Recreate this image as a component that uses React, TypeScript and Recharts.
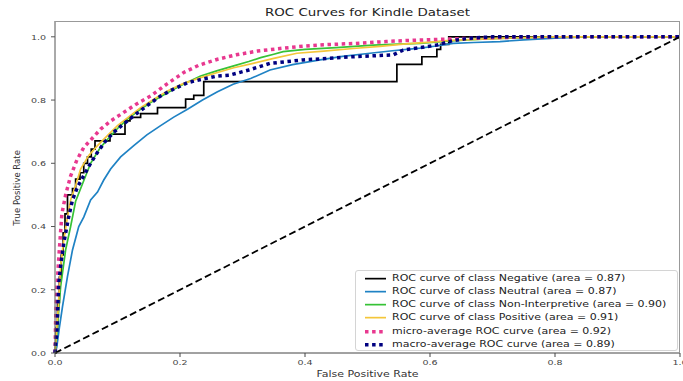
import React from 'react';
import { LineChart, Line, XAxis, YAxis } from 'recharts';

// false / true positive rates
const negFpr = [0, 0.002, 0.004, 0.007, 0.01, 0.013, 0.016, 0.02, 0.028, 0.033, 0.04, 0.046, 0.052, 0.058, 0.064, 0.088, 0.112, 0.12, 0.137, 0.164, 0.209, 0.222, 0.238, 0.547, 0.587, 0.611, 0.617, 0.63, 1.0];
const negTpr = [0, 0.08, 0.16, 0.24, 0.31, 0.38, 0.44, 0.5, 0.52, 0.55, 0.57, 0.6, 0.62, 0.645, 0.671, 0.692, 0.734, 0.745, 0.757, 0.776, 0.803, 0.815, 0.858, 0.913, 0.937, 0.96, 0.976, 1.0, 1.0];

const neuFpr = [0, 0.003, 0.007, 0.012, 0.02, 0.028, 0.038, 0.046, 0.057, 0.068, 0.078, 0.089, 0.105, 0.126, 0.147, 0.169, 0.19, 0.212, 0.236, 0.26, 0.285, 0.313, 0.344, 0.38, 0.424, 0.46, 0.504, 0.54, 0.584, 0.61, 0.637, 0.67, 0.712, 0.75, 0.8, 0.85, 1.0];
const neuTpr = [0, 0.021, 0.08, 0.147, 0.242, 0.326, 0.4, 0.43, 0.484, 0.509, 0.547, 0.582, 0.62, 0.656, 0.69, 0.719, 0.746, 0.771, 0.8, 0.826, 0.85, 0.868, 0.895, 0.912, 0.927, 0.938, 0.948, 0.956, 0.964, 0.971, 0.979, 0.982, 0.985, 0.99, 0.996, 1.0, 1.0];

const nonFpr = [0, 0.002, 0.004, 0.009, 0.017, 0.025, 0.033, 0.045, 0.057, 0.072, 0.089, 0.1, 0.116, 0.135, 0.153, 0.17, 0.19, 0.21, 0.233, 0.26, 0.286, 0.31, 0.329, 0.35, 0.365, 0.4, 0.45, 0.509, 0.55, 0.584, 0.627, 0.66, 0.7, 0.75, 0.8, 1.0];
const nonTpr = [0, 0.04, 0.084, 0.21, 0.326, 0.4, 0.48, 0.54, 0.6, 0.648, 0.687, 0.71, 0.74, 0.768, 0.792, 0.812, 0.834, 0.855, 0.876, 0.893, 0.908, 0.922, 0.934, 0.945, 0.953, 0.96, 0.966, 0.974, 0.977, 0.979, 0.986, 0.99, 0.994, 0.997, 1.0, 1.0];

const posFpr = [0, 0.002, 0.005, 0.009, 0.014, 0.02, 0.025, 0.033, 0.041, 0.054, 0.068, 0.085, 0.1, 0.12, 0.137, 0.16, 0.18, 0.205, 0.233, 0.26, 0.286, 0.317, 0.35, 0.387, 0.43, 0.477, 0.52, 0.557, 0.6, 0.627, 0.67, 0.72, 0.8, 1.0];
const posTpr = [0, 0.06, 0.137, 0.274, 0.358, 0.43, 0.484, 0.53, 0.582, 0.625, 0.656, 0.69, 0.719, 0.75, 0.776, 0.805, 0.829, 0.852, 0.871, 0.887, 0.902, 0.916, 0.932, 0.948, 0.955, 0.963, 0.97, 0.977, 0.983, 0.988, 0.992, 0.996, 1.0, 1.0];

const microFpr = [0, 0.001, 0.003, 0.006, 0.011, 0.017, 0.025, 0.035, 0.046, 0.06, 0.073, 0.09, 0.11, 0.13, 0.153, 0.18, 0.206, 0.23, 0.26, 0.29, 0.324, 0.36, 0.39, 0.43, 0.48, 0.53, 0.56, 0.6, 0.63, 0.68, 0.72, 0.8, 1.0];
const microTpr = [0, 0.1, 0.2, 0.3, 0.44, 0.5, 0.56, 0.61, 0.65, 0.68, 0.708, 0.735, 0.761, 0.787, 0.813, 0.852, 0.887, 0.91, 0.929, 0.943, 0.955, 0.963, 0.969, 0.975, 0.979, 0.985, 0.988, 0.991, 0.993, 0.996, 0.998, 1.0, 1.0];

const macroFpr = [0, 0.001, 0.003, 0.006, 0.01, 0.014, 0.022, 0.028, 0.036, 0.046, 0.057, 0.068, 0.08, 0.094, 0.11, 0.126, 0.147, 0.169, 0.19, 0.212, 0.236, 0.26, 0.28, 0.31, 0.344, 0.397, 0.44, 0.477, 0.541, 0.557, 0.585, 0.611, 0.637, 0.66, 0.7, 1.0];
const macroTpr = [0, 0.03, 0.063, 0.221, 0.29, 0.347, 0.432, 0.484, 0.525, 0.561, 0.6, 0.635, 0.668, 0.698, 0.725, 0.75, 0.782, 0.813, 0.835, 0.855, 0.866, 0.876, 0.879, 0.895, 0.916, 0.927, 0.932, 0.937, 0.943, 0.958, 0.966, 0.974, 0.988, 0.995, 1.0, 1.0];

const chanceFpr = [0, 1];
const chanceTpr = [0, 1];

const xTicks = [0, 0.2, 0.4, 0.6, 0.8, 1.0];
const yTicks = [0, 0.2, 0.4, 0.6, 0.8, 1.0];

const zip = (xs: number[], ys: number[]) => xs.map((x, i) => ({ x, y: ys[i] }));

const FONT = '"DejaVu Sans", sans-serif';
// the source image is squashed vertically, so text is drawn a bit flatter
const SQUASH = 0.82;
const flat = (y: number) => `translate(0 ${y}) scale(1 ${SQUASH}) translate(0 ${-y})`;

type Series = {
  name: string;
  data: { x: number; y: number }[];
  color: string;
  width: number;
  dash?: string;
  step?: boolean;
};

const series: Series[] = [
  { name: 'ROC curve of class Negative (area = 0.87)', data: zip(negFpr, negTpr), color: '#000000', width: 1.7, step: true },
  { name: 'ROC curve of class Neutral (area = 0.87)', data: zip(neuFpr, neuTpr), color: '#1f82c4', width: 1.7 },
  { name: 'ROC curve of class Non-Interpretive (area = 0.90)', data: zip(nonFpr, nonTpr), color: '#36c236', width: 1.7 },
  { name: 'ROC curve of class Positive (area = 0.91)', data: zip(posFpr, posTpr), color: '#f4c63a', width: 1.7 },
  { name: 'micro-average ROC curve (area = 0.92)', data: zip(microFpr, microTpr), color: '#e8388f', width: 3.5, dash: '3.5 3.6' },
  { name: 'macro-average ROC curve (area = 0.89)', data: zip(macroFpr, macroTpr), color: '#000080', width: 3.5, dash: '3.5 3.6' },
];

const XTick = (props: any) => {
  const { x, y, payload } = props;
  return (
    <text x={x} y={y} dy="0.71em" textAnchor="middle" fontSize={9.5} fill="#444" fontFamily={FONT} transform={flat(y)}>
      {Number(payload.value).toFixed(1)}
    </text>
  );
};

const YTick = (props: any) => {
  const { x, y, payload } = props;
  return (
    <text x={x} y={y} dy="0.355em" textAnchor="end" fontSize={9.5} fill="#444" fontFamily={FONT} transform={flat(y)}>
      {Number(payload.value).toFixed(1)}
    </text>
  );
};

const LegendBox = () => (
  <div
    style={{
      position: 'absolute',
      left: 355,
      top: 270,
      width: 321,
      height: 79,
      border: '1px solid #d4d4d4',
      borderRadius: 3,
      background: 'rgba(255,255,255,0.85)',
      fontFamily: FONT,
      fontSize: 11,
      color: '#222',
    }}
  >
    {series.map((s, i) => (
      <div key={s.name} style={{ position: 'absolute', left: 0, top: 0.5 + i * 13.3, height: 13.3, display: 'flex', alignItems: 'center' }}>
        <svg width={36} height={13.3} style={{ display: 'block' }}>
          <line x1={9} x2={30} y1={6.65} y2={6.65} stroke={s.color} strokeWidth={s.width} strokeDasharray={s.dash} />
        </svg>
        <span style={{ whiteSpace: 'nowrap', display: 'inline-block', transform: `scaleY(${SQUASH})`, lineHeight: '13.3px' }}>{s.name}</span>
      </div>
    ))}
  </div>
);

export default function App() {
  return (
    <div style={{ position: 'absolute', left: 0, top: 0, width: 683, height: 381, background: '#fff' }}>
      <div
        style={{
          position: 'absolute',
          left: 55,
          width: 625,
          top: 4,
          height: 18,
          lineHeight: '18px',
          textAlign: 'center',
          fontFamily: FONT,
          fontSize: 13.4,
          color: '#222',
          transform: `scaleY(${SQUASH})`,
        }}
      >
        ROC Curves for Kindle Dataset
      </div>
      <LineChart width={683} height={381} margin={{ top: 21, right: 3, bottom: 0, left: 0 }}>
        <XAxis
          type="number"
          dataKey="x"
          domain={[0, 1]}
          ticks={xTicks}
          interval={0}
          height={28}
          tickSize={4}
          tickMargin={2}
          stroke="#444"
          tick={<XTick />}
          label={{
            content: () => (
              <text x={367.5} y={374} textAnchor="middle" dominantBaseline="central" fontSize={11} fill="#333" fontFamily={FONT} transform={flat(374)}>
                False Positive Rate
              </text>
            ),
          }}
        />
        <YAxis
          type="number"
          domain={[0, 1.05]}
          ticks={yTicks}
          interval={0}
          width={55}
          tickSize={4}
          tickMargin={5}
          stroke="#555"
          tick={<YTick />}
          label={{
            content: () => (
              <text x={17} y={188} transform="rotate(-90 17 188)" textAnchor="middle" dominantBaseline="central" fontSize={8.5} fill="#333" fontFamily={FONT}>
                True Positive Rate
              </text>
            ),
          }}
        />
        {series.map((s) => (
          <Line
            key={s.name}
            data={s.data}
            dataKey="y"
            name={s.name}
            type={s.step ? 'stepAfter' : 'linear'}
            stroke={s.color}
            strokeWidth={s.width}
            strokeDasharray={s.dash}
            dot={false}
            activeDot={false}
            isAnimationActive={false}
          />
        ))}
        <Line
          data={zip(chanceFpr, chanceTpr)}
          dataKey="y"
          type="linear"
          stroke="#000"
          strokeWidth={1.8}
          strokeDasharray="7 3.5"
          dot={false}
          activeDot={false}
          legendType="none"
          isAnimationActive={false}
        />
      </LineChart>
      <div
        style={{
          position: 'absolute',
          left: 55,
          top: 21,
          width: 625,
          height: 332,
          borderTop: '1px solid #999',
          borderRight: '1px solid #999',
          boxSizing: 'border-box',
          pointerEvents: 'none',
        }}
      />
      <LegendBox />
    </div>
  );
}
